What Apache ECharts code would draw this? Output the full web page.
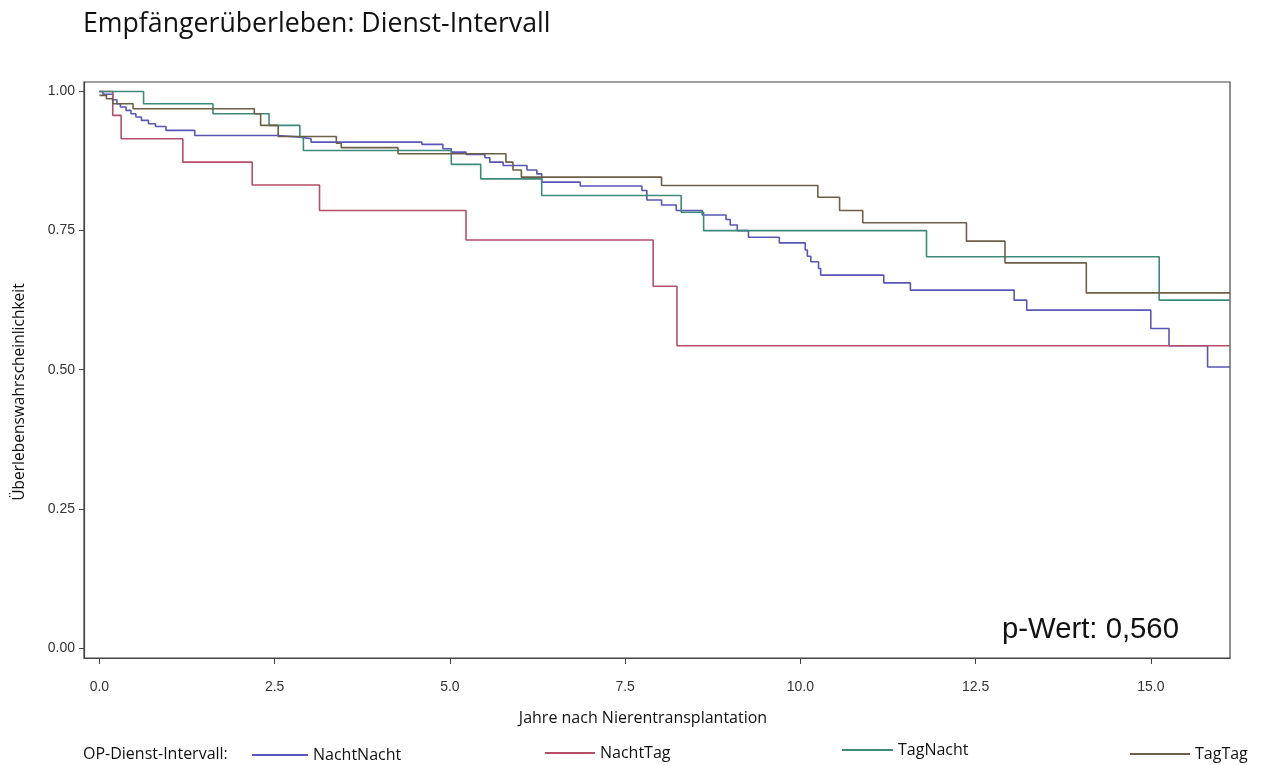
<!DOCTYPE html>
<html><head><meta charset="utf-8">
<script src="https://cdn.jsdelivr.net/npm/echarts@6/dist/echarts.min.js"></script>
<style>html,body{margin:0;padding:0;background:#fff}#c{width:1276px;height:765px}</style>
</head><body><div id="c"></div>
<script>
const titleText = 'Empfängerüberleben: Dienst-Intervall';
const xName = 'Jahre nach Nierentransplantation';
const yName = 'Überlebenswahrscheinlichkeit';
const legendTitle = 'OP-Dienst-Intervall:';
const pText = 'p-Wert: 0,560';
const seriesNames = ['NachtNacht', 'NachtTag', 'TagNacht', 'TagTag'];
const seriesColors = ['#5856b8', '#b64e68', '#3d8a7b', '#6d5e47'];

const xTicks = [0, 2.5, 5, 7.5, 10, 12.5, 15];
const yTicks = [0, 0.25, 0.5, 0.75, 1];

const nachtNachtT = [0, 0.05, 0.19, 0.25, 0.3, 0.38, 0.45, 0.52, 0.6, 0.7, 0.8, 0.95, 1.36, 2.55, 2.86, 3.02, 4.6, 4.9, 5.02, 5.23, 5.5, 5.57, 5.76, 6.1, 6.24, 6.31, 6.86, 7.74, 7.81, 8.02, 8.23, 8.6, 8.94, 9.0, 9.1, 9.26, 9.7, 10.07, 10.1, 10.15, 10.26, 10.29, 11.19, 11.57, 13.05, 13.23, 15.0, 15.26, 15.81, 16.13];
const nachtNachtS = [1.0, 0.995, 0.985, 0.978, 0.972, 0.966, 0.96, 0.954, 0.948, 0.942, 0.937, 0.930, 0.921, 0.918, 0.915, 0.909, 0.905, 0.897, 0.891, 0.887, 0.881, 0.873, 0.867, 0.859, 0.852, 0.837, 0.830, 0.822, 0.805, 0.796, 0.786, 0.778, 0.770, 0.760, 0.750, 0.738, 0.728, 0.715, 0.704, 0.694, 0.682, 0.670, 0.656, 0.643, 0.625, 0.607, 0.574, 0.543, 0.505, 0.505];

const nachtTagT = [0, 0.19, 0.31, 1.19, 2.18, 3.14, 5.23, 7.9, 8.24, 16.13];
const nachtTagS = [1.0, 0.957, 0.915, 0.873, 0.832, 0.786, 0.733, 0.650, 0.543, 0.543];

const tagNachtT = [0, 0.63, 1.62, 2.42, 2.86, 2.91, 5.02, 5.44, 6.31, 8.3, 8.62, 11.8, 15.12, 16.13];
const tagNachtS = [1.0, 0.978, 0.960, 0.939, 0.918, 0.894, 0.869, 0.843, 0.813, 0.783, 0.750, 0.703, 0.625, 0.625];

const tagTagT = [0, 0.1, 0.19, 0.48, 2.21, 2.3, 2.55, 3.38, 3.45, 4.26, 5.8, 5.9, 6.02, 8.02, 10.25, 10.56, 10.89, 12.37, 12.92, 14.08, 16.13];
const tagTagS = [0.993, 0.987, 0.978, 0.969, 0.960, 0.939, 0.919, 0.907, 0.899, 0.888, 0.873, 0.859, 0.846, 0.831, 0.810, 0.786, 0.764, 0.731, 0.692, 0.638, 0.638];

function pairs(t, s) { return t.map((v, i) => [v, s[i]]); }
const allData = [pairs(nachtNachtT, nachtNachtS), pairs(nachtTagT, nachtTagS), pairs(tagNachtT, tagNachtS), pairs(tagTagT, tagTagS)];

const legendPos = [[247, 742], [540, 740], [837, 737], [1125, 741]];
const legendLineW = [56, 50, 51, 60];
const font = 'Open Sans';
const labelFont = 'Liberation Sans';

const chart = echarts.init(document.getElementById('c'), null, {renderer: 'canvas'});
chart.setOption({
  animation: false,
  backgroundColor: '#fff',
  title: {text: titleText, left: 78, top: 6, textStyle: {fontFamily: font, fontSize: 26.7, fontWeight: 'normal', color: '#111'}},
  grid: {left: 84, right: 46, top: 82, bottom: 107, show: true, borderColor: '#444', borderWidth: 1.2, backgroundColor: 'transparent'},
  xAxis: {
    type: 'value', min: -0.22, max: 16.13,
    axisLine: {show: true, onZero: false, lineStyle: {color: '#444', width: 1.2}},
    axisTick: {show: true, customValues: xTicks, length: 6, lineStyle: {color: '#444'}},
    axisLabel: {customValues: xTicks, formatter: v => v.toFixed(1), margin: 22, fontFamily: labelFont, fontSize: 14, color: '#333'},
    splitLine: {show: false}
  },
  yAxis: {
    type: 'value', min: -0.018, max: 1.017,
    axisLine: {show: true, onZero: false, lineStyle: {color: '#444', width: 1.2}},
    axisTick: {show: true, customValues: yTicks, length: 5, lineStyle: {color: '#444'}},
    axisLabel: {customValues: yTicks, formatter: v => v.toFixed(2), margin: 9, fontFamily: labelFont, fontSize: 14, color: '#333'},
    splitLine: {show: false}
  },
  legend: seriesNames.map((n, i) => ({
    data: [n], left: legendPos[i][0], top: legendPos[i][1], icon: 'rect', itemWidth: legendLineW[i], itemHeight: 2, itemGap: 8,
    textStyle: {fontFamily: font, fontSize: 16, color: '#111'}
  })),
  graphic: [
    {type: 'text', left: 83, top: 746, style: {text: legendTitle, fontFamily: font, fontSize: 16, fill: '#111'}},
    {type: 'text', x: 643, y: 718, style: {text: xName, fontFamily: font, fontSize: 16, fill: '#111', align: 'center', verticalAlign: 'middle'}},
    {type: 'text', x: 20, y: 392, rotation: Math.PI / 2, style: {text: yName, fontFamily: font, fontSize: 15.5, fill: '#111', align: 'center', verticalAlign: 'middle'}},
    {type: 'text', left: 1002, top: 615, style: {text: pText, fontFamily: labelFont, fontSize: 29.3, fill: '#111'}}
  ],
  series: seriesNames.map((n, i) => ({
    name: n, type: 'line', step: 'end', symbol: 'none', data: allData[i],
    lineStyle: {color: seriesColors[i], width: 1.6}, itemStyle: {color: seriesColors[i]}
  }))
});
</script>
</body></html>
